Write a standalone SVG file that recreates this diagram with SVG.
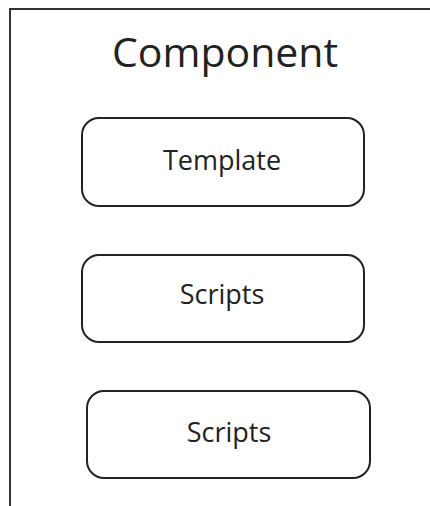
<svg xmlns="http://www.w3.org/2000/svg" width="430" height="506" viewBox="0 0 430 506">
<style>
.box{fill:#fff;stroke:#222;stroke-width:2}
.t{font-family:"Open Sans","Noto Sans",sans-serif;fill:#222;text-anchor:middle}
</style>
<rect width="430" height="506" fill="#fff"/>
<g id="component">
<rect x="10" y="9" width="440" height="520" fill="none" stroke="#333" stroke-width="2"/>
<text class="t" x="225" y="67" font-size="41">Component</text>
</g>
<g id="template">
<rect class="box" x="82" y="118" width="282" height="88" rx="17"/>
<text class="t" x="222" y="170" font-size="27">Template</text>
</g>
<g id="scripts1">
<rect class="box" x="82" y="255" width="282" height="87" rx="17"/>
<text class="t" x="222" y="304" font-size="27">Scripts</text>
</g>
<g id="scripts2">
<rect class="box" x="87" y="391" width="283" height="87" rx="17"/>
<text class="t" x="229" y="442" font-size="27">Scripts</text>
</g>
<g id="connectors"></g>
</svg>
